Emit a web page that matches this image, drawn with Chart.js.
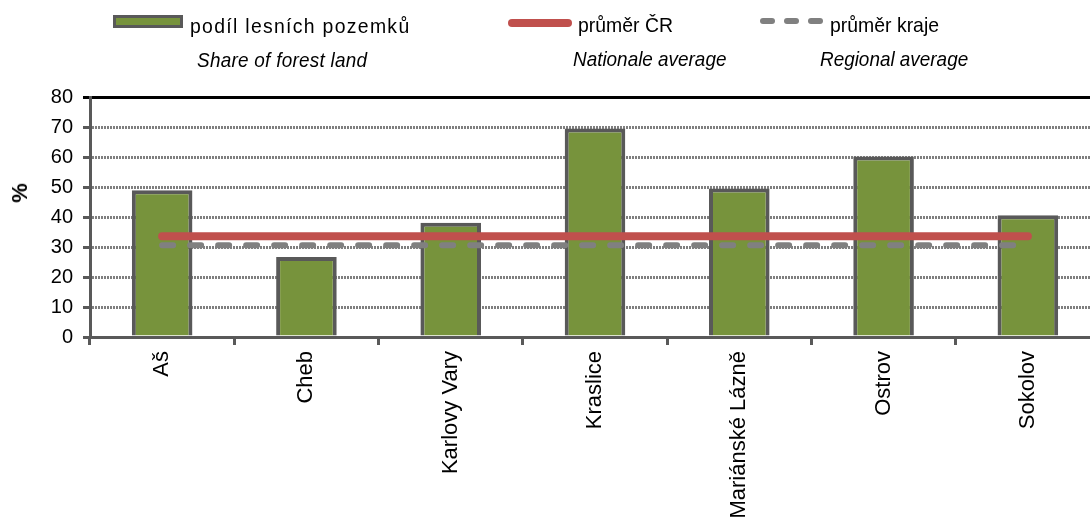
<!DOCTYPE html>
<html>
<head>
<meta charset="utf-8">
<script src="https://cdn.jsdelivr.net/npm/chart.js@4/dist/chart.umd.min.js"></script>
<style>
  body { margin: 0; overflow: hidden; background: #fff; font-family: 'Liberation Sans', Arial, sans-serif; }
  #wrap { position: relative; width: 1090px; height: 517px; overflow: hidden; }
  #chart { position: absolute; left: 0; top: 0; }
  .lg { position: absolute; font-size: 21px; line-height: 21px; color: #000; white-space: nowrap;
        transform: scaleX(0.925); transform-origin: 0 0; }
  .it { font-style: italic; transform: scaleX(0.9); }
  .sw { position: absolute; }
  #ytitle { position: absolute; left: 20px; top: 193px; font-weight: bold; font-size: 22px; line-height: 22px;
            transform: translate(-50%, -50%) rotate(-90deg); }
</style>
</head>
<body>
<div id="wrap">
  <canvas id="chart" width="1100" height="517"></canvas>

  <div class="sw" style="left:113px;top:15px;width:70px;height:13px;background:#77933C;border:3px solid #595959;box-sizing:border-box;"></div>
  <div class="lg" style="left:190px;top:15px;letter-spacing:1.4px;">podíl lesních pozemků</div>
  <div class="lg it" style="left:197px;top:49px;letter-spacing:0.3px;">Share of forest land</div>

  <div class="sw" style="left:508px;top:19px;width:64px;height:8px;background:#C0504D;border-radius:4px;"></div>
  <div class="lg" style="left:578px;top:14px;">průměr ČR</div>
  <div class="lg it" style="left:573px;top:48px;">Nationale average</div>

  <div class="sw" style="left:760px;top:18px;width:15px;height:6px;background:#808080;border-radius:3px;"></div>
  <div class="sw" style="left:784px;top:18px;width:15px;height:6px;background:#808080;border-radius:3px;"></div>
  <div class="sw" style="left:808px;top:18px;width:15px;height:6px;background:#808080;border-radius:3px;"></div>
  <div class="lg" style="left:830px;top:14px;">průměr kraje</div>
  <div class="lg it" style="left:820px;top:48px;">Regional average</div>

  <div id="ytitle">%</div>
</div>
<script>
var districts = ['Aš', 'Cheb', 'Karlovy Vary', 'Kraslice', 'Mariánské Lázně', 'Ostrov', 'Sokolov'];
var forestShare = [48.9, 26.7, 38.1, 69.5, 49.5, 60.2, 40.6];
var nationalAvg = [33.6, 33.6, 33.6, 33.6, 33.6, 33.6, 33.6];
var regionalAvg = [30.6, 30.6, 30.6, 30.6, 30.6, 30.6, 30.6];
var yMin = 0, yMax = 80, yStep = 10;

var tickFont = { family: "'Liberation Sans', Arial, sans-serif", size: 20 };
var xFont = { family: "'Liberation Sans', Arial, sans-serif", size: 22 };

var isTop = function(c){ return c.tick && c.tick.value === yMax; };

var ctx = document.getElementById('chart').getContext('2d');
var chart = new Chart(ctx, {
    type: 'bar',
    data: {
        labels: districts,
        datasets: [
            {
                type: 'line',
                label: 'průměr ČR',
                data: nationalAvg,
                borderColor: '#C0504D',
                borderWidth: 8,
                borderCapStyle: 'round',
                pointRadius: 0,
                fill: false,
                order: 1
            },
            {
                type: 'line',
                label: 'průměr kraje',
                data: regionalAvg,
                borderColor: '#808080',
                borderWidth: 6,
                borderCapStyle: 'round',
                borderDash: [11, 17],
                pointRadius: 0,
                fill: false,
                order: 2
            },
            {
                label: 'podíl lesních pozemků',
                data: forestShare,
                backgroundColor: '#77933C',
                borderColor: '#595959',
                borderWidth: 4,
                barPercentage: 0.42,
                categoryPercentage: 1,
                order: 3
            }
        ]
    },
    options: {
        responsive: false,
        animation: false,
        layout: { padding: { top: 97, left: 0, right: 0, bottom: 0 } },
        plugins: { legend: { display: false }, tooltip: { enabled: false } },
        scales: {
            x: {
                offset: true,
                grid: { display: true, drawOnChartArea: false, tickLength: 8, tickColor: '#595959', tickWidth: 3 },
                border: { color: '#595959', width: 3 },
                ticks: { color: '#000', font: xFont, minRotation: 90, maxRotation: 90, padding: 6, autoSkip: false },
                afterFit: function(s){ s.height = 180; }
            },
            y: {
                min: yMin,
                max: yMax,
                grid: {
                    color: function(c){ return isTop(c) ? '#000' : '#7f7f7f'; },
                    lineWidth: 3,
                    tickLength: 7,
                    tickWidth: 3,
                    tickColor: function(c){ return isTop(c) ? '#000' : '#595959'; }
                },
                border: {
                    color: '#595959',
                    width: 3,
                    dash: function(c){ return isTop(c) ? [] : [2, 1]; }
                },
                ticks: { stepSize: yStep, color: '#000', font: tickFont, padding: 10 },
                afterFit: function(s){ s.width = 90; }
            }
        }
    }
});
</script>
</body>
</html>
